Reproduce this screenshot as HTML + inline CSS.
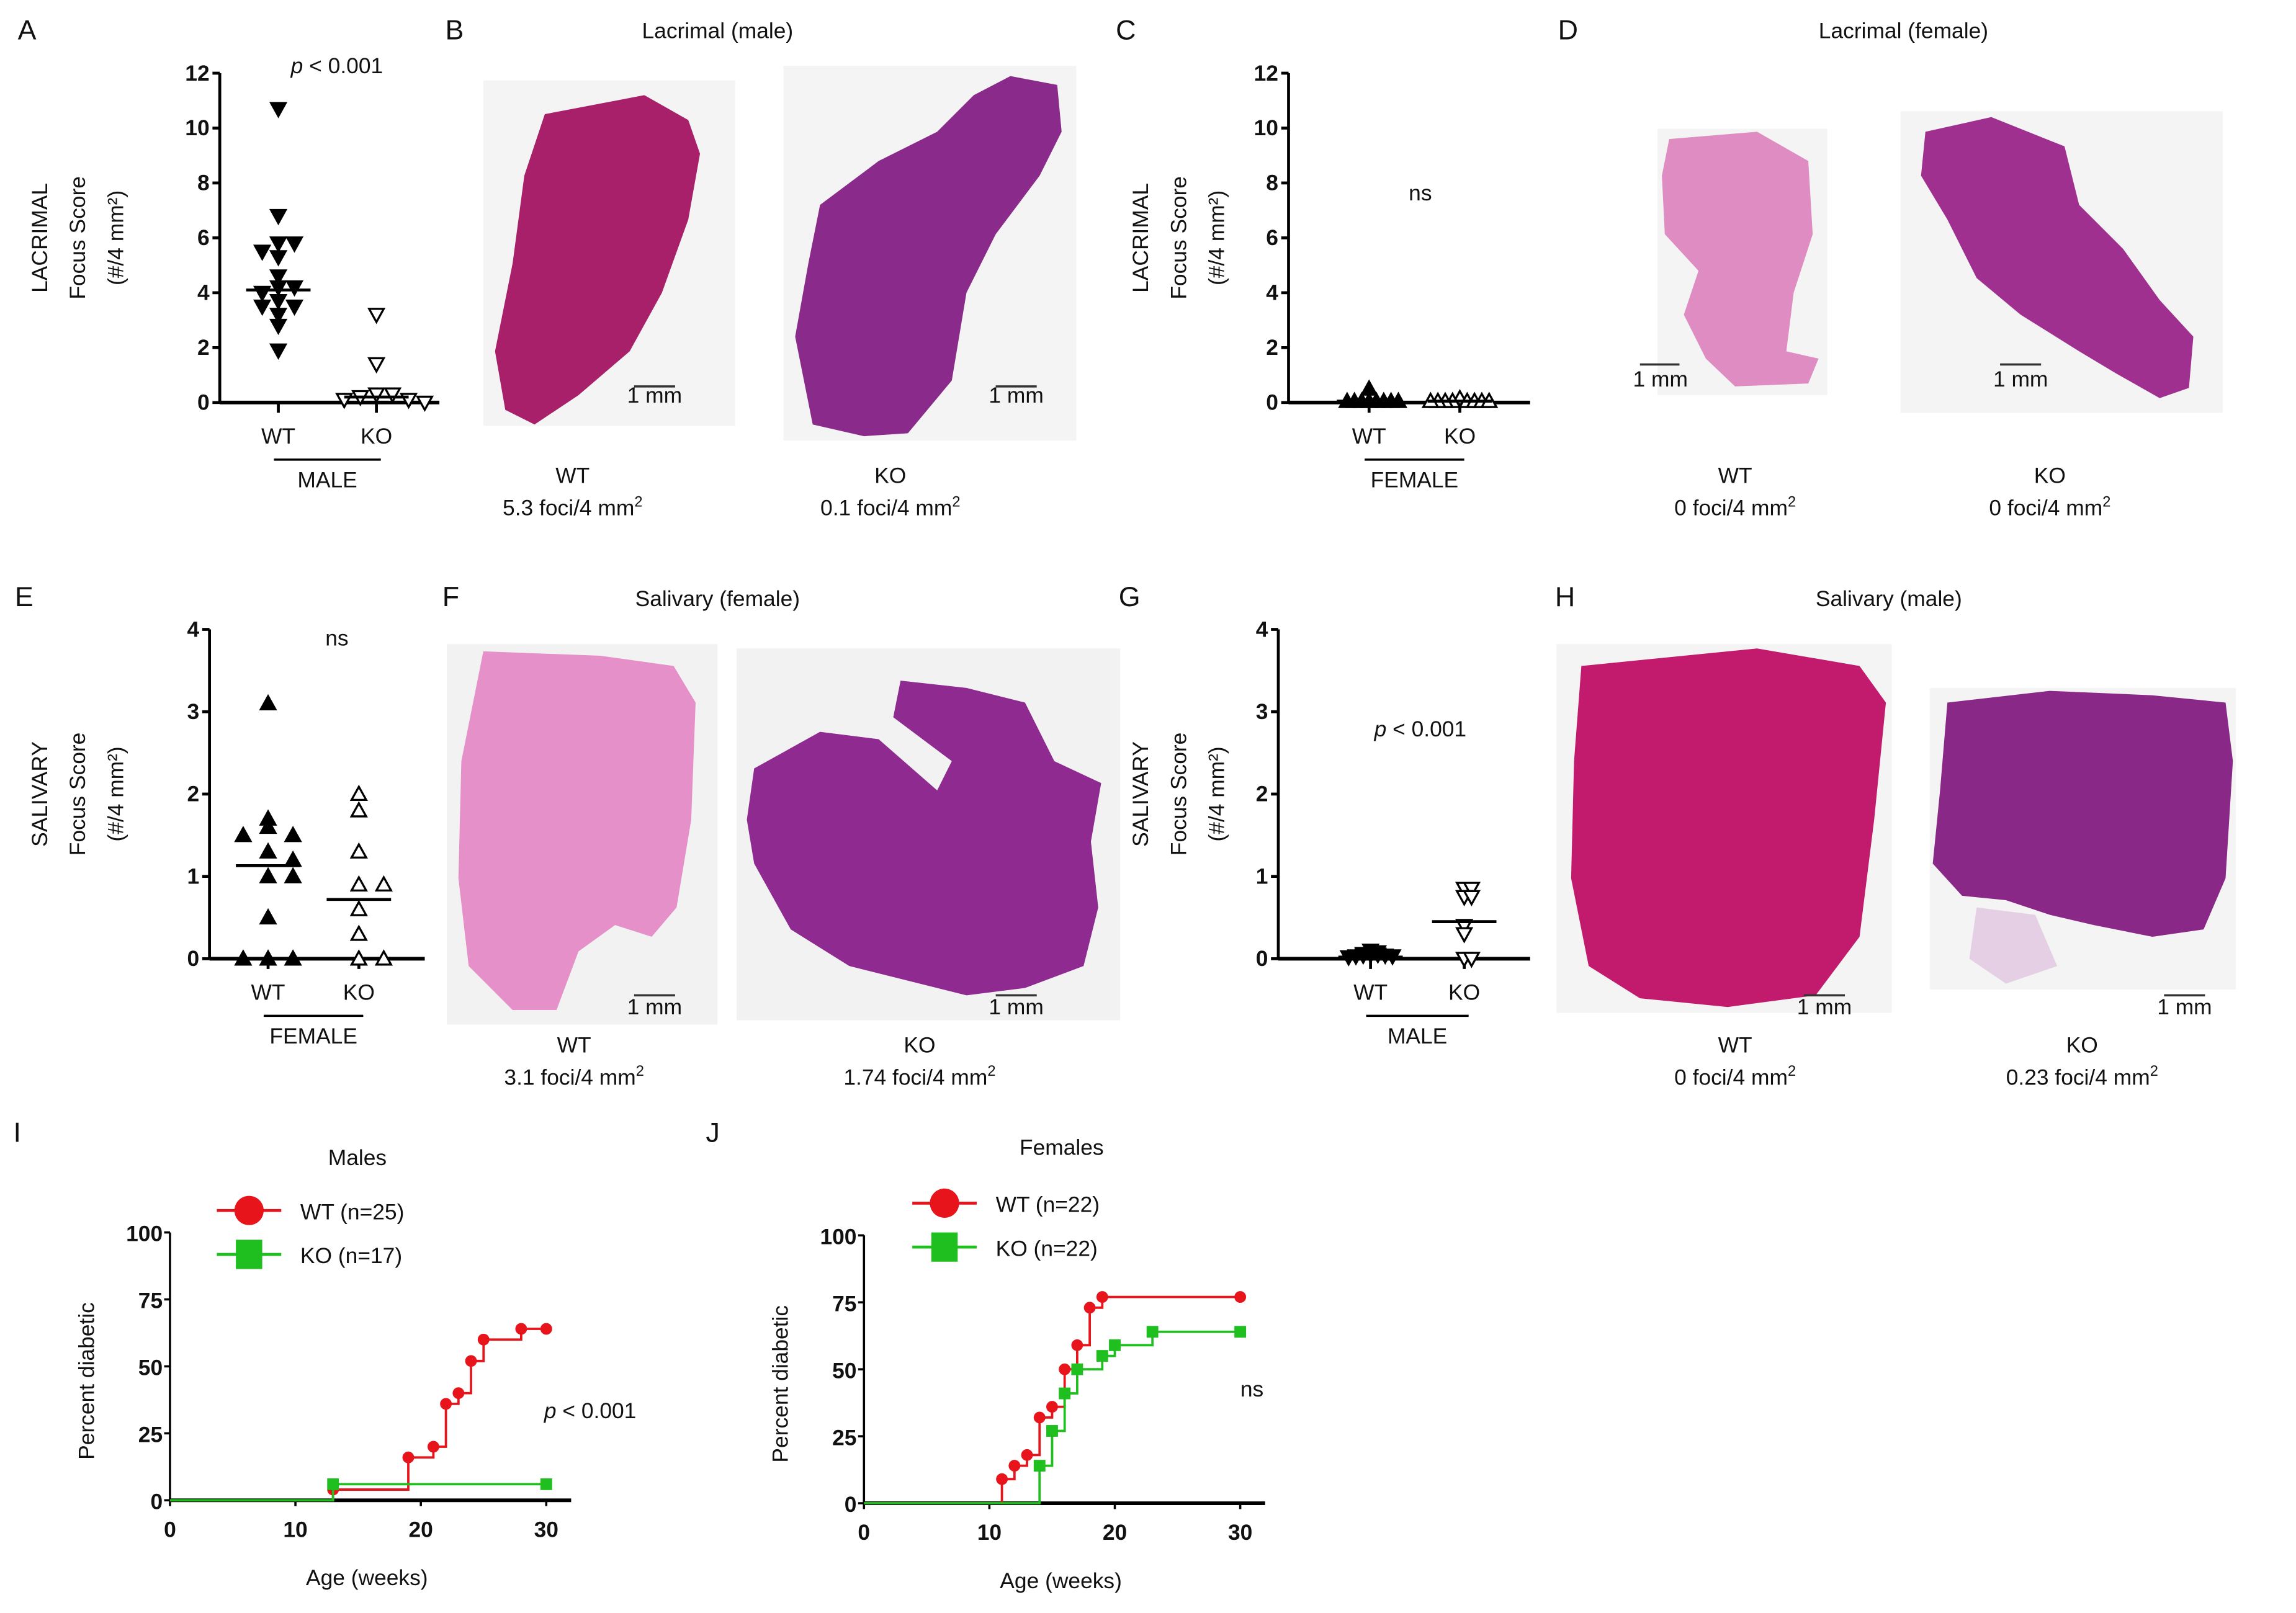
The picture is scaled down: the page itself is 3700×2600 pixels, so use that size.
<!DOCTYPE html>
<html><head><meta charset="utf-8"><style>
html,body{margin:0;padding:0;background:#fff;}
svg{display:block;font-family:"Liberation Sans",sans-serif;}
.t{font-family:"Liberation Sans",sans-serif;font-size:15px;fill:#111;}
.tick{font-size:15px;font-weight:bold;fill:#111;}
.letter{font-size:19px;fill:#111;}
</style></head><body>
<svg id="fig" width="3700" height="2600" viewBox="0 0 1568 1102" xmlns="http://www.w3.org/2000/svg">
<g id="static">
<text class="letter" x="12" y="27">A</text>
<text class="letter" x="304" y="27">B</text>
<text class="letter" x="762" y="27">C</text>
<text class="letter" x="1064" y="27">D</text>
<text class="letter" x="10" y="414">E</text>
<text class="letter" x="302" y="414">F</text>
<text class="letter" x="764" y="414">G</text>
<text class="letter" x="1062" y="414">H</text>
<text class="letter" x="9" y="780">I</text>
<text class="letter" x="482" y="780">J</text>

<text class="t" x="490" y="26" text-anchor="middle" font-size="17">Lacrimal (male)</text>
<text class="t" x="1300" y="26" text-anchor="middle" font-size="17">Lacrimal (female)</text>
<text class="t" x="490" y="414" text-anchor="middle" font-size="17">Salivary (female)</text>
<text class="t" x="1290" y="414" text-anchor="middle" font-size="17">Salivary (male)</text>

<rect x="330" y="55" width="172" height="236" fill="#f4f4f4"/>
<path d="M372 78 L440 65 L470 82 L478 105 L470 150 L452 200 L430 240 L395 270 L365 290 L345 280 L338 240 L350 180 L358 120 Z" fill="#a8206a"/>
<rect x="535" y="45" width="200" height="256" fill="#f4f4f4"/>
<path d="M690 52 L722 58 L725 90 L710 120 L680 160 L660 200 L650 260 L620 296 L590 298 L555 290 L543 230 L552 180 L560 140 L600 110 L640 90 L665 65 Z" fill="#8a2a8a"/>
<rect x="1132" y="88" width="116" height="182" fill="#f4f4f4"/>
<path d="M1140 95 L1200 90 L1235 110 L1238 160 L1225 200 L1220 240 L1242 245 L1235 262 L1185 264 L1165 245 L1150 215 L1160 185 L1137 160 L1135 120 Z" fill="#de8cc2"/>
<rect x="1298" y="76" width="220" height="206" fill="#f4f4f4"/>
<path d="M1315 90 L1360 80 L1410 100 L1420 140 L1450 170 L1475 205 L1498 230 L1495 265 L1475 272 L1445 255 L1420 240 L1380 215 L1350 190 L1330 150 L1312 120 Z" fill="#a03090"/>
<rect x="305" y="440" width="185" height="260" fill="#f2f2f2"/>
<path d="M330 445 L410 448 L460 455 L475 480 L472 560 L462 620 L445 640 L420 632 L395 650 L380 690 L350 690 L320 660 L313 600 L315 520 Z" fill="#e590c8"/>
<rect x="503" y="443" width="262" height="254" fill="#f2f2f2"/>
<path d="M515 525 L560 500 L600 505 L640 540 L650 520 L610 490 L615 465 L660 470 L700 480 L720 520 L752 535 L745 575 L750 620 L740 660 L700 675 L660 680 L620 670 L580 660 L540 635 L515 590 L510 560 Z" fill="#8e2a90"/>
<rect x="1063" y="440" width="229" height="252" fill="#f4f4f4"/>
<path d="M1080 455 L1200 443 L1270 455 L1288 480 L1280 560 L1270 640 L1240 680 L1180 688 L1120 682 L1085 660 L1073 600 L1075 520 Z" fill="#c21a6c"/>
<rect x="1318" y="470" width="209" height="206" fill="#f4f4f4"/>
<path d="M1330 480 L1400 472 L1470 475 L1520 480 L1525 520 L1520 600 L1505 635 L1470 640 L1430 632 L1400 625 L1370 615 L1340 612 L1320 590 L1325 540 Z" fill="#8a2888"/>
<path d="M1350 620 L1390 625 L1405 660 L1370 672 L1345 655 Z" fill="#e4cfe4"/>

<g id="scalebars" stroke="#333" stroke-width="1.5">
<line x1="433" y1="264" x2="461" y2="264"/><line x1="680" y1="264" x2="708" y2="264"/>
<line x1="1120" y1="249" x2="1147" y2="249"/><line x1="1366" y1="249" x2="1394" y2="249"/>
<line x1="433" y1="680" x2="461" y2="680"/><line x1="680" y1="680" x2="708" y2="680"/>
<line x1="1232" y1="680" x2="1260" y2="680"/><line x1="1478" y1="680" x2="1506" y2="680"/>
</g>
<g class="t" font-size="11" text-anchor="middle">
<text x="447" y="275">1 mm</text><text x="694" y="275">1 mm</text>
<text x="1134" y="264">1 mm</text><text x="1380" y="264">1 mm</text>
<text x="447" y="693">1 mm</text><text x="694" y="693">1 mm</text>
<text x="1246" y="693">1 mm</text><text x="1492" y="693">1 mm</text>
</g>
<g class="t" font-size="15" text-anchor="middle">
<text x="391" y="330">WT</text><text x="391" y="352">5.3 foci/4 mm<tspan font-size="10" dy="-6">2</tspan></text>
<text x="608" y="330">KO</text><text x="608" y="352">0.1 foci/4 mm<tspan font-size="10" dy="-6">2</tspan></text>
<text x="1185" y="330">WT</text><text x="1185" y="352">0 foci/4 mm<tspan font-size="10" dy="-6">2</tspan></text>
<text x="1400" y="330">KO</text><text x="1400" y="352">0 foci/4 mm<tspan font-size="10" dy="-6">2</tspan></text>
<text x="392" y="719">WT</text><text x="392" y="741">3.1 foci/4 mm<tspan font-size="10" dy="-6">2</tspan></text>
<text x="628" y="719">KO</text><text x="628" y="741">1.74 foci/4 mm<tspan font-size="10" dy="-6">2</tspan></text>
<text x="1185" y="719">WT</text><text x="1185" y="741">0 foci/4 mm<tspan font-size="10" dy="-6">2</tspan></text>
<text x="1422" y="719">KO</text><text x="1422" y="741">0.23 foci/4 mm<tspan font-size="10" dy="-6">2</tspan></text>
</g>
</g>
<g id="charts"></g>
</svg>
<script>
const lacMaleWT = [10.7, 6.8, 5.8, 5.8, 5.5, 5.3, 4.6, 4.2, 4.2, 4.0, 3.7, 3.5, 3.5, 3.2, 2.8, 1.9];
const lacMaleKO = [3.2, 1.4, 0.3, 0.3, 0.2, 0.1, 0.1, 0.0];
const lacMaleMedian = [4.1, 0.2];
const lacFemWT = [0.5, 0.05, 0.05, 0.05, 0.05, 0.05, 0.05, 0.05, 0.05];
const lacFemKO = [0.15, 0.05, 0.05, 0.05, 0.05, 0.05, 0.05, 0.05, 0.05];
const lacFemMedian = [0.05, 0.05];
const salFemWT = [3.1, 1.7, 1.6, 1.5, 1.5, 1.3, 1.2, 1.0, 1.0, 0.5, 0.0, 0.0, 0.0];
const salFemKO = [2.0, 1.8, 1.3, 0.9, 0.9, 0.6, 0.3, 0.0, 0.0];
const salFemMedian = [1.13, 0.72];
const salMaleWT = [0.1, 0.08, 0.06, 0.05, 0.05, 0.04, 0.04, 0.03, 0.03, 0.02];
const salMaleKO = [0.85, 0.85, 0.75, 0.75, 0.4, 0.3, 0.0, 0.0];
const salMaleMedian = [0.02, 0.45];
const lacTicks = [0, 2, 4, 6, 8, 10, 12];
const salTicks = [0, 1, 2, 3, 4];
const groupLabels = ["WT", "KO"];

const maleWTweeks = [13, 19, 21, 22, 23, 24, 25, 28, 30];
const maleWTpct = [4, 16, 20, 36, 40, 52, 60, 64, 64];
const maleKOweeks = [13, 30];
const maleKOpct = [6, 6];
const femWTweeks = [11, 12, 13, 14, 15, 16, 17, 18, 19, 30];
const femWTpct = [9, 14, 18, 32, 36, 50, 59, 73, 77, 77];
const femKOweeks = [14, 15, 16, 17, 19, 20, 23, 30];
const femKOpct = [14, 27, 41, 50, 55, 59, 64, 64];
const survXTicks = [0, 10, 20, 30];
const survYTicks = [0, 25, 50, 75, 100];

const NS = "http://www.w3.org/2000/svg";
const root = document.getElementById("charts");
function mk(tag, attrs, parent) {
  const e = document.createElementNS(NS, tag);
  for (const k in attrs) e.setAttribute(k, attrs[k]);
  (parent || root).appendChild(e);
  return e;
}
function txt(s, attrs, parent) { const e = mk("text", attrs, parent); e.textContent = s; return e; }

function tri(g, x, y, up, filled) {
  const s = 5;
  const d = up ? `M${x} ${y - s} L${x + s} ${y + s * 0.8} L${x - s} ${y + s * 0.8} Z`
               : `M${x} ${y + s} L${x + s} ${y - s * 0.8} L${x - s} ${y - s * 0.8} Z`;
  const p = mk("path", { d: d, fill: filled ? "#000" : "#fff", stroke: "#000", "stroke-width": 1.4 }, g);
  
  
}

function scatter(cfg) {
  const g = mk("g", {});
  
  
  const ymax = cfg.ticks[cfg.ticks.length - 1];
  const Y = v => cfg.y0 - (v / ymax) * (cfg.y0 - cfg.ytop);
  const ax = mk("line", { x1: cfg.ax, y1: cfg.ytop, x2: cfg.ax, y2: cfg.y0, stroke: "#000", "stroke-width": 2 }, g);
  
  
  const xa = mk("line", { x1: cfg.ax, y1: cfg.y0, x2: cfg.xend, y2: cfg.y0, stroke: "#000", "stroke-width": 2.5 }, g);
  
  
  cfg.ticks.forEach(t => {
    mk("line", { x1: cfg.ax - 5, y1: Y(t), x2: cfg.ax, y2: Y(t), stroke: "#000", "stroke-width": 2 }, g);
    const l = txt(String(t), { x: cfg.ax - 7, y: Y(t) + 5, "text-anchor": "end", class: "t tick" }, g);
    
    
  });
  const gx = [cfg.wx, cfg.kx];
  gx.forEach((x, i) => {
    mk("line", { x1: x, y1: cfg.y0, x2: x, y2: cfg.y0 + 7, stroke: "#000", "stroke-width": 2 }, g);
    const l = txt(groupLabels[i], { x: x, y: cfg.y0 + 28, "text-anchor": "middle", class: "t", "font-size": 15 }, g);
    
    
  });
  mk("line", { x1: cfg.wx - 3, y1: cfg.y0 + 39, x2: cfg.kx + 3, y2: cfg.y0 + 39, stroke: "#000", "stroke-width": 1.5 }, g);
  const sx = txt(cfg.sex, { x: (cfg.wx + cfg.kx) / 2, y: cfg.y0 + 58, "text-anchor": "middle", class: "t", "font-size": 15 }, g);
  
  
  const yt = mk("text", { transform: `translate(${cfg.titleX},${(cfg.y0 + cfg.ytop) / 2}) rotate(-90)`, "text-anchor": "middle", class: "t", "font-size": 17 }, g);
  
  
  [cfg.organ, "Focus Score", "(#/4 mm²)"].forEach((s, i) => {
    const ts = mk("tspan", { x: 0, y: i * 26 }, yt);
    ts.textContent = s;
  });
  const st = mk("text", { x: cfg.statX, y: cfg.statY, "text-anchor": "middle", class: "t", "font-size": 17 }, g);
  
  
  if (cfg.stat === "ns") st.textContent = "ns";
  else { const a = mk("tspan", { "font-style": "italic" }, st); a.textContent = "p"; const b = mk("tspan", {}, st); b.textContent = " < 0.001"; }
  [[cfg.wt, cfg.wx, true], [cfg.ko, cfg.kx, false]].forEach(([vals, cx, filled]) => {
    const seen = {};
    vals.forEach(v => {
      const key = Math.round(Y(v) / 8);
      const n = seen[key] = (seen[key] || 0) + 1;
      const off = n === 1 ? 0 : (n % 2 === 0 ? 1 : -1) * Math.floor(n / 2) * cfg.step;
      tri(g, cx + off, Y(v), cfg.up, filled);
    });
  });
  [cfg.med[0], cfg.med[1]].forEach((m, i) => {
    const l = mk("line", { x1: gx[i] - 22, y1: Y(m), x2: gx[i] + 22, y2: Y(m), stroke: "#000", "stroke-width": 2 }, g);
    
    
  });
}

scatter({ name: "chart-lacrimal-male", ax: 150, titleX: 32, ytop: 50, y0: 275, xend: 300, wx: 190, kx: 257, step: 11, ticks: lacTicks, wt: lacMaleWT, ko: lacMaleKO, med: lacMaleMedian, up: false, organ: "LACRIMAL", sex: "MALE", stat: "p", statX: 230, statY: 50 });
scatter({ name: "chart-lacrimal-female", ax: 880, titleX: 784, ytop: 50, y0: 275, xend: 1045, wx: 935, kx: 997, step: 5, ticks: lacTicks, wt: lacFemWT, ko: lacFemKO, med: lacFemMedian, up: true, organ: "LACRIMAL", sex: "FEMALE", stat: "ns", statX: 970, statY: 137 });
scatter({ name: "chart-salivary-female", ax: 143, titleX: 32, ytop: 430, y0: 655, xend: 290, wx: 183, kx: 245, step: 17, ticks: salTicks, wt: salFemWT, ko: salFemKO, med: salFemMedian, up: true, organ: "SALIVARY", sex: "FEMALE", stat: "ns", statX: 230, statY: 441 });
scatter({ name: "chart-salivary-male", ax: 873, titleX: 784, ytop: 430, y0: 655, xend: 1045, wx: 936, kx: 1000, step: 5, ticks: salTicks, wt: salMaleWT, ko: salMaleKO, med: salMaleMedian, up: false, organ: "SALIVARY", sex: "MALE", stat: "p", statX: 970, statY: 503 });

function survival(cfg) {
  const g = mk("g", {});
  
  
  const X = w => cfg.ax + (w / 30) * (cfg.x30 - cfg.ax);
  const Y = p => cfg.y0 - (p / 100) * (cfg.y0 - cfg.y100);
  const ya = mk("line", { x1: cfg.ax, y1: cfg.y100, x2: cfg.ax, y2: cfg.y0, stroke: "#000", "stroke-width": 1.5 }, g);
  
  
  const xa = mk("line", { x1: cfg.ax, y1: cfg.y0, x2: cfg.xend, y2: cfg.y0, stroke: "#000", "stroke-width": 2.5 }, g);
  
  
  survYTicks.forEach(t => {
    mk("line", { x1: cfg.ax - 4, y1: Y(t), x2: cfg.ax, y2: Y(t), stroke: "#000", "stroke-width": 1.5 }, g);
    const l = txt(String(t), { x: cfg.ax - 5, y: Y(t) + 6, "text-anchor": "end", class: "t tick", "font-size": 17 }, g);
    
    
  });
  survXTicks.forEach(t => {
    mk("line", { x1: X(t), y1: cfg.y0, x2: X(t), y2: cfg.y0 + 4, stroke: "#000", "stroke-width": 1.5 }, g);
    const l = txt(String(t), { x: X(t), y: cfg.y0 + 25, "text-anchor": "middle", class: "t tick", "font-size": 17 }, g);
    
    
  });
  const yt = txt("Percent diabetic", { transform: `translate(${cfg.ax - 52},${(cfg.y0 + cfg.y100) / 2 + 10}) rotate(-90)`, "text-anchor": "middle", class: "t", "font-size": 18 }, g);
  
  
  const xt = txt("Age (weeks)", { x: (cfg.ax + cfg.x30) / 2 + 6, y: cfg.y0 + 58, "text-anchor": "middle", class: "t", "font-size": 18 }, g);
  
  
  const tt = txt(cfg.title, { x: cfg.titleX, y: cfg.titleY, "text-anchor": "middle", class: "t", "font-size": 18 }, g);
  
  
  const st = mk("text", { x: cfg.statX, y: cfg.statY, "text-anchor": "middle", class: "t", "font-size": 18 }, g);
  
  
  if (cfg.stat === "ns") st.textContent = "ns";
  else { const a = mk("tspan", { "font-style": "italic" }, st); a.textContent = "p"; const b = mk("tspan", {}, st); b.textContent = " < 0.001"; }
  cfg.series.forEach(([wk, pc, col, shape, label], si) => {
    let d = `M${X(0)} ${Y(0)}`;
    let prev = 0;
    wk.forEach((w, i) => { d += ` L${X(w)} ${Y(prev)} L${X(w)} ${Y(pc[i])}`; prev = pc[i]; });
    const p = mk("path", { d: d, fill: "none", stroke: col, "stroke-width": 1.6 }, g);
    
    
    wk.forEach((w, i) => {
      let m;
      if (shape === "c") m = mk("circle", { cx: X(w), cy: Y(pc[i]), r: 4, fill: col }, g);
      else m = mk("rect", { x: X(w) - 4, y: Y(pc[i]) - 4, width: 8, height: 8, fill: col }, g);
      
      
    });
    const ly = cfg.legY + si * 30;
    const lg = mk("g", {}, g);
    
    
    mk("line", { x1: cfg.legX, y1: ly, x2: cfg.legX + 44, y2: ly, stroke: col, "stroke-width": 2 }, lg);
    if (shape === "c") mk("ellipse", { cx: cfg.legX + 22, cy: ly, rx: 10, ry: 10, fill: col }, lg);
    else mk("rect", { x: cfg.legX + 13, y: ly - 10, width: 18, height: 20, fill: col }, lg);
    txt(label, { x: cfg.legX + 57, y: ly + 6, class: "t", "font-size": 15 }, lg);
  });
}
survival({ name: "chart-survival-males", ax: 116, x30: 373, xend: 390, y0: 1025, y100: 842, title: "Males", titleX: 244, titleY: 796, stat: "p", statX: 403, statY: 969, legX: 148, legY: 827,
  series: [[maleWTweeks, maleWTpct, "#e8141c", "c", "WT (n=25)"], [maleKOweeks, maleKOpct, "#1fbf1f", "s", "KO (n=17)"]] });
survival({ name: "chart-survival-females", ax: 590, x30: 847, xend: 864, y0: 1027, y100: 844, title: "Females", titleX: 725, titleY: 789, stat: "ns", statX: 855, statY: 954, legX: 623, legY: 822,
  series: [[femWTweeks, femWTpct, "#e8141c", "c", "WT (n=22)"], [femKOweeks, femKOpct, "#1fbf1f", "s", "KO (n=22)"]] });
</script>
</body></html>
